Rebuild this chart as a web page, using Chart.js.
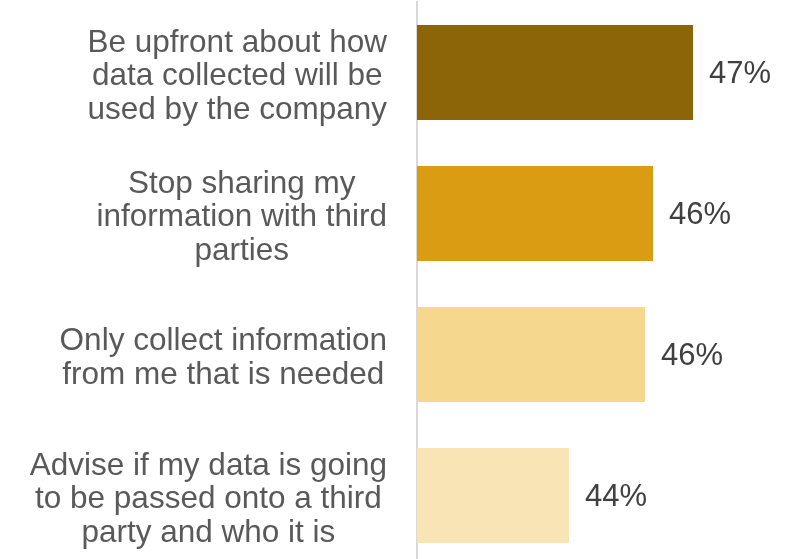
<!DOCTYPE html>
<html>
<head>
<meta charset="utf-8">
<title>Data privacy expectations</title>
<script src="https://cdn.jsdelivr.net/npm/chart.js@4"></script>
<style>
    html, body { margin: 0; padding: 0; background: #ffffff; overflow: hidden; }
    #wrap { width: 792px; height: 566px; }
</style>
</head>
<body>
<div id="wrap"><canvas id="privacyChart"></canvas></div>
<script>
// Categories (each one split over several lines)
const categories = [
    ['Be upfront about how', 'data collected will be', 'used by the company'],
    ['Stop sharing my', 'information with third', 'parties'],
    ['Only collect information', 'from me that is needed'],
    ['Advise if my data is going', 'to be passed onto a third', 'party and who it is']
];

// Share of respondents, in %
const values = [46.9, 45.9, 45.7, 43.8];

const barColors = ['#8c6508', '#da9c12', '#f5d78e', '#f9e4b6'];

const FONT = '"Liberation Sans", Arial, sans-serif';

// Draws the centred multi-line category labels and the value labels
const labelPlugin = {
    id: 'sideLabels',
    afterDraw(chart) {
        const ctx = chart.ctx;
        const yScale = chart.scales.y;
        const meta = chart.getDatasetMeta(0);

        ctx.save();
        ctx.font = '31.5px ' + FONT;
        ctx.fillStyle = '#595959';
        ctx.textAlign = 'center';
        ctx.textBaseline = 'middle';
        categories.forEach((lines, i) => {
            const y = yScale.getPixelForTick(i) + 4;
            const w = Math.max(...lines.map(l => ctx.measureText(l).width));
            const cx = yScale.right - 30 - w / 2;
            lines.forEach((line, j) => {
                ctx.fillText(line, cx, y + (j - (lines.length - 1) / 2) * 33.5);
            });
        });

        ctx.font = '31px ' + FONT;
        ctx.fillStyle = '#404040';
        ctx.textAlign = 'left';
        meta.data.forEach((bar, i) => {
            ctx.fillText(Math.round(values[i]) + '%', bar.x + 16, bar.y + 2);
        });
        ctx.restore();
    }
};

const ctx = document.getElementById('privacyChart').getContext('2d');
const privacyChart = new Chart(ctx, {
    type: 'bar',
    data: {
        labels: categories,
        datasets: [{
            data: values,
            backgroundColor: barColors,
            borderWidth: 0,
            barPercentage: 0.675,
            categoryPercentage: 1
        }]
    },
    options: {
        indexAxis: 'y',
        responsive: true,
        maintainAspectRatio: false,
        devicePixelRatio: 1,
        animation: false,
        layout: {
            padding: { top: 2, right: 15, bottom: 0, left: 0 }
        },
        plugins: {
            legend: { display: false },
            tooltip: { enabled: false }
        },
        scales: {
            x: {
                type: 'linear',
                min: 40,
                max: 49,
                display: false
            },
            y: {
                grid: { display: false, drawTicks: false },
                border: { display: true, color: '#d9d9d9', width: 2 },
                ticks: { display: false },
                afterFit: scale => { scale.width = 417; }
            }
        }
    },
    plugins: [labelPlugin]
});
</script>
</body>
</html>
